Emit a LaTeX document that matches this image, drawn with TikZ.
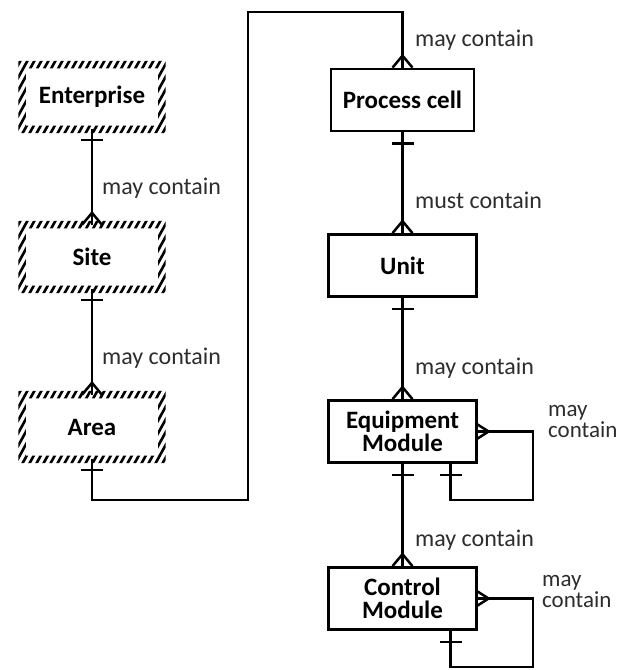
\documentclass[tikz,border=0pt]{standalone}
\usepackage{fontspec}
\setmainfont{Carlito}
\definecolor{labelgray}{RGB}{45,45,45}

% short bar ("one") just below a bottom anchor
\newcommand{\barbelow}[1]{\draw[conn] ([shift={(-11,11)}]#1) -- ++(22,0);}
% crow's foot ("many") just above a top anchor
\newcommand{\footabove}[1]{\draw[conn,line join=round] ([shift={(-10,0)}]#1) -- ([shift={(0,-12)}]#1) -- ([shift={(10,0)}]#1);}
% crow's foot on the right side of a box
\newcommand{\footright}[1]{\draw[conn,line join=round] ([shift={(0,-7)}]#1) -- ([shift={(11,0)}]#1) -- ([shift={(0,7)}]#1);}
% hatched frame drawn round a (borderless) node
\newcommand{\hatchframe}[1]{%
  \begin{scope}[even odd rule]
    \clip
      ([shift={(-4,-4)}]#1.north west) rectangle ([shift={(4,4)}]#1.south east)
      ([shift={(3.5,3.5)}]#1.north west) rectangle ([shift={(-3.5,-3.5)}]#1.south east);
    \foreach \hx in {-80,-73,...,180}
      \draw[line width=2.6pt] ([shift={(\hx,10)}]#1.south west) -- ++(55,-100);
  \end{scope}}

\begin{document}
\begin{tikzpicture}[x=1pt,y=-1pt,
  conn/.style={line width=2.5pt},
  solidbox/.style={draw, line width=2.7pt, minimum width=147.5pt, minimum height=62pt,
    inner sep=0pt, align=center, font=\bfseries\fontsize{25}{23}\selectfont},
  hatchbox/.style={minimum width=139pt, minimum height=64pt, inner sep=0pt,
    align=center, font=\bfseries\fontsize{25}{23}\selectfont},
  rel/.style={anchor=west, inner sep=0pt, text=labelgray, align=left,
    font=\fontsize{24}{20}\selectfont},
  rel2/.style={rel, font=\fontsize{23}{21}\selectfont}]
\useasboundingbox (0,0) rectangle (621,670);

% physical hierarchy (hatched)
\node[hatchbox] (ent)  at (92,97)  {Enterprise};
\node[hatchbox] (site) at (92,257) {Site};
\node[hatchbox] (area) at (92,427) {Area};
\hatchframe{ent}
\hatchframe{site}
\hatchframe{area}

% procedural / equipment hierarchy
\node[solidbox, minimum width=143pt] (pc) at (402.5,100) {Process cell};
\node[solidbox] (unit) at (402.5,265.5) {Unit};
\node[solidbox] (em)   at (402.5,431.5) {Equipment\\Module};
\node[solidbox] (cm)   at (402.5,598.5) {Control\\Module};

% routing points
\coordinate (bl) at (248,500);
\coordinate (tl) at (248,12);
\coordinate (emloop) at (533,500);
\coordinate (cmloop) at (533,667);
\coordinate (emin) at ([xshift=48]em.south);
\coordinate (cmin) at ([xshift=48]cm.south);

% connectors
\draw[conn] (ent.south) -- (site.north);
\draw[conn] (site.south) -- (area.north);
\draw[conn] (area.south) |- (bl) -- (tl) -| (pc.north);
\draw[conn] (pc.south) -- (unit.north);
\draw[conn] (unit.south) -- (em.north);
\draw[conn] (em.south) -- (cm.north);
\draw[conn] (em.east) -| (emloop) -| (emin);
\draw[conn] (cm.east) -| (cmloop) -| (cmin);

% cardinality marks
\barbelow{ent.south}  \footabove{site.north}
\barbelow{site.south} \footabove{area.north}
\barbelow{area.south} \footabove{pc.north}
\barbelow{pc.south}   \footabove{unit.north}
\barbelow{unit.south} \footabove{em.north}
\barbelow{em.south}   \footabove{cm.north}
\barbelow{emin} \footright{em.east}
\barbelow{cmin} \footright{cm.east}

% relationship labels
\node[rel] (r1) at (102,188) {may contain};
\node[rel] (r2) at (102,358) {may contain};
\node[rel] (r3) at (415,40)  {may contain};
\node[rel] (r4) at (415,200) {must contain};
\node[rel] (r5) at (415,368) {may contain};
\node[rel] (r6) at (415,540) {may contain};
\node[rel2] (r7) at (548,421) {may\\contain};
\node[rel2] (r8) at (542,591) {may\\contain};
\end{tikzpicture}
\end{document}
